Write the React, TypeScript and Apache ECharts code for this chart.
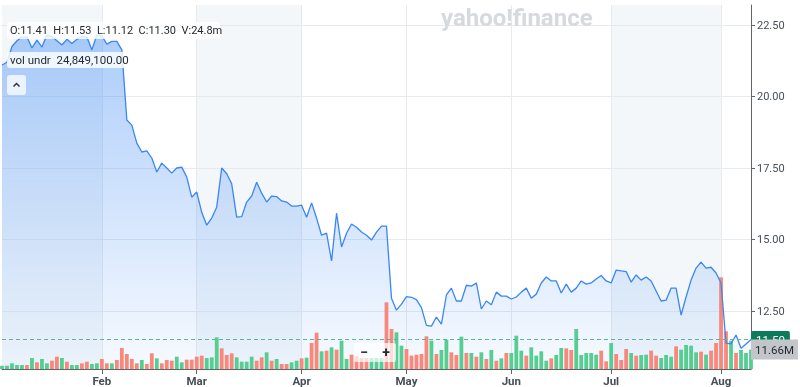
import React, { useEffect, useRef } from 'react';
import * as echarts from 'echarts';

const closes = [
  21.1, 21.2, 21.75, 21.95, 22.08, 22.08, 21.7, 21.97, 21.73, 22.15,
  22.1, 21.95, 21.8, 22.0, 21.85, 22.0, 22.1, 22.08, 21.63, 22.15,
  22.12, 21.83, 21.93, 21.93, 21.63, 19.18, 19.0, 18.37, 18.06, 18.1,
  17.85, 17.36, 17.67, 17.5, 17.32, 17.5, 17.53, 17.18, 16.48, 16.66,
  15.95, 15.5, 15.75, 16.13, 17.5, 17.3, 16.95, 15.78, 15.8, 16.31,
  16.52, 17.0, 16.62, 16.31, 16.52, 16.5, 16.35, 16.31, 16.17, 16.17,
  16.2, 15.78, 16.28, 15.75, 15.15, 15.22, 14.25, 15.92, 14.74, 15.22,
  15.54, 15.43, 15.26, 15.15, 14.98, 15.26, 15.47, 15.47, 12.95, 12.53,
  12.74, 13.0, 12.98, 12.9, 12.62, 12.0, 11.97, 12.29, 12.04, 13.06,
  13.3, 12.85, 12.85, 13.4, 13.37, 13.48, 12.57, 12.85, 12.72, 13.16,
  13.02, 13.02, 12.92, 12.99, 13.16, 13.3, 12.95, 13.09, 13.48, 13.69,
  13.55, 13.55, 13.13, 13.44, 13.16, 13.3, 13.55, 13.44, 13.48, 13.62,
  13.74, 13.55, 13.48, 13.93, 13.9, 13.88, 13.51, 13.76, 13.58, 13.69,
  13.55, 13.2, 12.85, 12.88, 13.3, 13.3, 12.36, 12.99, 13.58, 14.0,
  14.21, 14.0, 14.03, 13.83, 13.48, 11.38, 11.35, 11.66, 11.2, 11.35,
  11.5,
];

// volume in millions
const volumes = [
  2.0, 2.0, 3.4, 2.4, 2.4, 2.4, 6.6, 4.0, 6.0, 3.4,
  5.0, 7.4, 6.6, 4.4, 2.4, 2.4, 3.4, 4.4, 3.0, 3.4,
  6.0, 3.4, 3.4, 5.4, 12.6, 9.0, 6.0, 3.4, 5.4, 3.0,
  9.4, 6.4, 3.4, 5.4, 5.0, 7.4, 4.0, 5.6, 5.6, 7.4,
  8.0, 6.6, 7.0, 19.0, 12.4, 8.4, 9.4, 7.0, 4.4, 4.4,
  7.4, 5.0, 7.0, 10.0, 5.0, 6.0, 3.0, 3.0, 4.0, 5.0,
  6.4, 6.8, 15.6, 21.8, 10.6, 11.0, 13.0, 11.6, 17.0, 6.0,
  8.6, 7.6, 6.6, 6.6, 6.6, 6.6, 6.6, 40.0, 24.0, 22.0,
  14.0, 12.0, 8.0, 8.6, 9.0, 19.6, 17.0, 9.0, 11.4, 17.6,
  10.0, 8.4, 19.4, 9.6, 9.6, 7.4, 10.0, 6.0, 11.4, 5.0,
  6.4, 9.6, 9.6, 20.0, 11.0, 8.0, 13.0, 8.0, 10.6, 5.0,
  6.4, 8.4, 12.6, 12.4, 11.4, 24.0, 8.4, 9.6, 9.6, 8.6,
  11.0, 4.6, 15.6, 9.0, 5.4, 12.0, 9.6, 8.0, 8.4, 8.6,
  11.0, 8.0, 6.6, 8.4, 7.4, 13.6, 11.6, 14.4, 14.0, 10.0,
  10.4, 8.6, 11.0, 15.6, 55.0, 22.6, 17.0, 9.6, 11.4, 9.6,
  11.66,
];

// 1 = up day (green), 0 = down day (red)
const volumeUp = [
  1, 1, 1, 1, 1, 0, 1, 0, 1, 1,
  0, 0, 1, 0, 1, 1, 0, 0, 1, 1,
  0, 0, 1, 0, 0, 0, 0, 0, 1, 0,
  0, 1, 0, 0, 0, 1, 1, 0, 0, 0,
  0, 1, 1, 1, 0, 0, 0, 1, 1, 1,
  1, 0, 0, 1, 0, 1, 0, 0, 1, 1,
  0, 1, 0, 0, 1, 0, 1, 0, 1, 1,
  0, 0, 0, 0, 1, 1, 1, 0, 0, 1,
  1, 0, 0, 0, 0, 0, 1, 0, 1, 1,
  0, 0, 1, 0, 1, 0, 1, 0, 1, 0,
  1, 0, 1, 1, 1, 0, 1, 1, 1, 1,
  0, 1, 1, 0, 0, 1, 1, 1, 1, 1,
  0, 0, 1, 0, 0, 0, 1, 0, 1, 1,
  0, 0, 1, 1, 1, 0, 1, 1, 1, 1,
  0, 1, 0, 0, 0, 0, 1, 0, 1, 1,
  1,
];

const monthTicks = [
  { label: 'Feb', index: 20 },
  { label: 'Mar', index: 39 },
  { label: 'Apr', index: 60 },
  { label: 'May', index: 81 },
  { label: 'Jun', index: 102 },
  { label: 'Jul', index: 122 },
  { label: 'Aug', index: 144 },
];

const priceTicks = [12.5, 15, 17.5, 20, 22.5];
const shadedRanges = [
  [0, 20],
  [39, 60],
  [122, 144],
];
const lastPrice = 11.5;
const lastVolume = 11.66;
const ohlcText = 'O:11.41  H:11.53  L:11.12  C:11.30  V:24.8m';
const studyText = 'vol undr  24,849,100.00';

export default function App() {
  const ref = useRef<HTMLDivElement>(null);

  useEffect(() => {
    if (!ref.current) return;
    const chart = echarts.init(ref.current, null, { renderer: 'svg' });
    const days = closes.map((_, i) => String(i));
    const tickMap = new Map<number, string>(monthTicks.map((m) => [m.index, m.label]));
    const isTick = (i: number) => tickMap.has(i);
    const font = 'Roboto, Arial, sans-serif';
    const green = '#56cd91';
    const red = '#f8887c';
    const gridColor = '#e7eaee';
    const axisColor = '#5f656b';

    chart.setOption({
      animation: false,
      textStyle: { fontFamily: font },
      grid: { left: 2, right: 49, top: 5, bottom: 18, containLabel: false },
      xAxis: {
        type: 'category',
        data: days,
        boundaryGap: false,
        axisLine: { show: true, lineStyle: { color: axisColor, width: 1 } },
        axisTick: { show: true, interval: (i: number) => isTick(i), length: 5, lineStyle: { color: axisColor } },
        axisLabel: {
          interval: (i: number) => isTick(i),
          formatter: (_v: string, i: number) => tickMap.get(i) ?? '',
          color: '#464e56',
          fontSize: 11.5,
          fontWeight: 'bold',
          fontFamily: font,
          margin: 6,
        },
        splitLine: { show: true, interval: (i: number) => isTick(i), lineStyle: { color: gridColor } },
      },
      yAxis: [
        {
          type: 'value',
          position: 'right',
          min: 10.472,
          max: 23.2,
          axisLine: { show: true, lineStyle: { color: axisColor } },
          axisTick: { show: true, length: 4, customValues: priceTicks, lineStyle: { color: axisColor } },
          axisLabel: {
            customValues: priceTicks,
            formatter: (v: number) => v.toFixed(2),
            color: '#464e56',
            fontSize: 11,
            fontFamily: font,
            margin: 6,
          },
          splitLine: { show: true, lineStyle: { color: gridColor } },
        },
        {
          type: 'value',
          min: 0,
          max: 218.4,
          show: false,
          splitLine: { show: false },
        },
      ],
      series: [
        {
          type: 'line',
          data: closes,
          symbol: 'none',
          silent: true,
          lineStyle: { opacity: 0 },
          z: 1,
          markArea: {
            silent: true,
            itemStyle: { color: 'rgba(222,231,241,0.35)' },
            data: shadedRanges.map(([a, b]) => [{ xAxis: days[a] }, { xAxis: days[b] }]),
          },
        },
        {
          type: 'line',
          data: closes,
          symbol: 'none',
          silent: true,
          lineStyle: { opacity: 0 },
          z: 2,
          areaStyle: {
            color: new echarts.graphic.LinearGradient(0, 0, 0, 1, [
              { offset: 0, color: 'rgba(66,140,245,0.62)' },
              { offset: 1, color: 'rgba(66,140,245,0.06)' },
            ]),
          },
        },
        {
          type: 'bar',
          yAxisIndex: 1,
          barWidth: 3.8,
          silent: true,
          z: 3,
          data: volumes.map((v, i) => ({ value: v, itemStyle: { color: volumeUp[i] ? green : red } })),
        },
        {
          type: 'line',
          data: closes,
          symbol: 'none',
          silent: true,
          z: 4,
          lineStyle: { color: '#3a86f4', width: 1.3 },
          markLine: {
            silent: true,
            symbol: 'none',
            data: [{ yAxis: lastPrice }],
            lineStyle: { type: [4, 3], color: '#5cb3a0', width: 1.2 },
            label: {
              position: 'end',
              distance: 0,
              formatter: () => lastPrice.toFixed(2),
              backgroundColor: '#0b7b58',
              color: '#ffffff',
              padding: [3, 5, 2, 5],
              borderRadius: 2,
              fontSize: 11.5,
              fontFamily: font,
            },
          },
        },
        {
          type: 'line',
          yAxisIndex: 1,
          data: volumes,
          symbol: 'none',
          silent: true,
          z: 6,
          lineStyle: { color: 'transparent', width: 0 },
          markLine: {
            silent: true,
            symbol: 'none',
            data: [{ yAxis: lastVolume }],
            lineStyle: { color: 'transparent', width: 0, opacity: 1 },
            label: {
              show: true,
              opacity: 1,
              position: 'end',
              distance: 0,
              formatter: () => `${lastVolume}M`,
              backgroundColor: '#c2c6ca',
              color: '#232a31',
              padding: [5, 4, 3, 4],
              fontSize: 11.5,
              fontFamily: font,
            },
          },
        },
      ],
      graphic: [
        {
          type: 'text',
          x: 441,
          y: 6,
          z: 10,
          style: { text: 'yahoo!finance', fill: '#d6d9de', fontSize: 24, fontWeight: 'bold', fontFamily: font },
        },
        {
          type: 'rect',
          z: 10,
          shape: { x: 7, y: 22, width: 213, height: 17, r: 3 },
          style: { fill: 'rgba(255,255,255,0.82)' },
        },
        {
          type: 'text',
          z: 11,
          x: 10,
          y: 30.5,
          style: { text: ohlcText, fill: '#232a31', fontSize: 11, fontFamily: font, verticalAlign: 'middle' },
        },
        {
          type: 'rect',
          z: 10,
          shape: { x: 7, y: 52, width: 130, height: 16, r: 3 },
          style: { fill: 'rgba(255,255,255,0.82)' },
        },
        {
          type: 'text',
          z: 11,
          x: 10,
          y: 60,
          style: { text: studyText, fill: '#232a31', fontSize: 11.5, fontFamily: font, verticalAlign: 'middle' },
        },
        {
          type: 'rect',
          z: 10,
          shape: { x: 7, y: 75, width: 19, height: 20, r: 3 },
          style: { fill: 'rgba(255,255,255,0.75)' },
        },
        {
          type: 'polyline',
          z: 11,
          shape: { points: [[13.5, 86.5], [16.5, 83.5], [19.5, 86.5]] },
          style: { stroke: '#232a31', lineWidth: 1.4, fill: null },
        },
        {
          type: 'rect',
          z: 10,
          shape: { x: 354, y: 343, width: 42, height: 19, r: 2 },
          style: { fill: 'rgba(255,255,255,0.7)' },
        },
        {
          type: 'text',
          z: 11,
          x: 364,
          y: 352,
          style: { text: '−', fill: '#232a31', fontSize: 14, fontWeight: 'bold', fontFamily: font, align: 'center', verticalAlign: 'middle' },
        },
        {
          type: 'text',
          z: 11,
          x: 386,
          y: 352,
          style: { text: '+', fill: '#232a31', fontSize: 14, fontWeight: 'bold', fontFamily: font, align: 'center', verticalAlign: 'middle' },
        },
      ],
    });

    return () => chart.dispose();
  }, []);

  return <div ref={ref} style={{ position: 'fixed', left: 0, top: 0, width: 800, height: 387 }} />;
}
